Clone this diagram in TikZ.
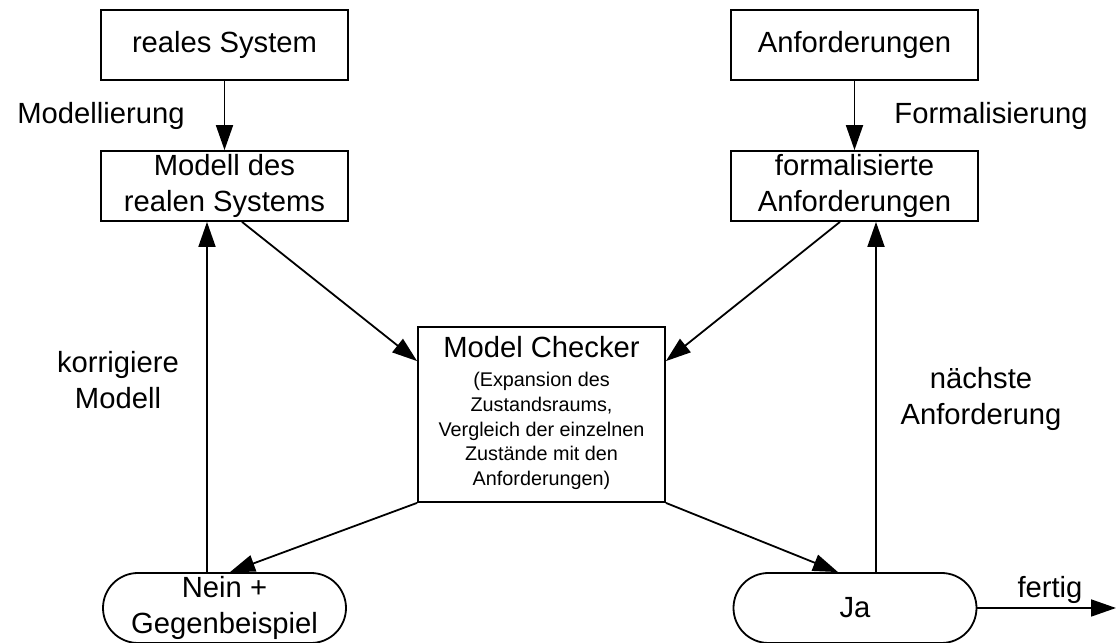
\documentclass[tikz,border=0pt]{standalone}
\usepackage{fontspec}
\setmainfont{Liberation Sans}
\usetikzlibrary{arrows.meta,shapes.misc}
\begin{document}
\begin{tikzpicture}[x=0.5pt,y=0.5pt,line width=0.9pt,
    font=\fontsize{14.6}{18}\selectfont,
    box/.style={draw,minimum width=123.5pt,minimum height=35pt,inner sep=1pt,align=center},
    result/.style={draw,rounded rectangle,minimum width=123.5pt,minimum height=35pt,inner sep=1pt,align=center},
    arr/.style={-{Triangle[length=12.5pt,width=8.5pt]}}]
    \useasboundingbox (0,0) rectangle (1116,643);
    % ---- Eingaben ----
    \node[box] (sys) at (224.5,598) {reales System};
    \node[box] (anf) at (854.5,598) {Anforderungen};
    \node[box] (modell) at (224.5,457) {Modell des\\realen Systems};
    \node[box] (formal) at (854.5,457) {formalisierte\\Anforderungen};
    \node (modl) at (101,527) {Modellierung};
    \node (forml) at (991,527) {Formalisierung};
    \draw[arr] (sys.south) -- (modell.north);
    \draw[arr] (anf.south) -- (formal.north);
    % ---- Model Checker ----
    \node[box,minimum height=87.5pt] (mc) at (541.5,228.5) {Model Checker\\[5pt]
        {\fontsize{9.9}{12.3}\selectfont\begin{tabular}{@{}c@{}}(Expansion des\\Zustandsraums,\\Vergleich der einzelnen\\Zustände mit den\\Anforderungen)\end{tabular}}};
    \draw[arr] ([xshift=8.75pt]modell.south) -- ([yshift=-17.5pt]mc.north west);
    \draw[arr] ([xshift=-7.25pt]formal.south) -- ([yshift=-17.5pt]mc.north east);
    % ---- Ergebnisse ----
    \node[result] (nein) at (224.5,35) {Nein +\\Gegenbeispiel};
    \node[result] (ja) at (855,35) {Ja};
    \coordinate (ende) at (1116,35);
    \draw[arr] (mc.south west) -- ([xshift=2.75pt]nein.north);
    \draw[arr] (mc.south east) -- ([xshift=-8.5pt]ja.north);
    \draw[arr] ([xshift=-8.75pt]nein.north) -- ([xshift=-8.75pt]modell.south);
    \draw[arr] ([xshift=10.5pt]ja.north) -- ([xshift=10.5pt]formal.south -| ja.north);
    \draw[arr] (ja.east) -- (ende);
    \node[align=center] (korr) at (118,263) {korrigiere\\Modell};
    \node[align=center] (naechst) at (981,244) {nächste\\Anforderung};
    \node (fertigl) at (1050,53) {fertig};
\end{tikzpicture}
\end{document}
